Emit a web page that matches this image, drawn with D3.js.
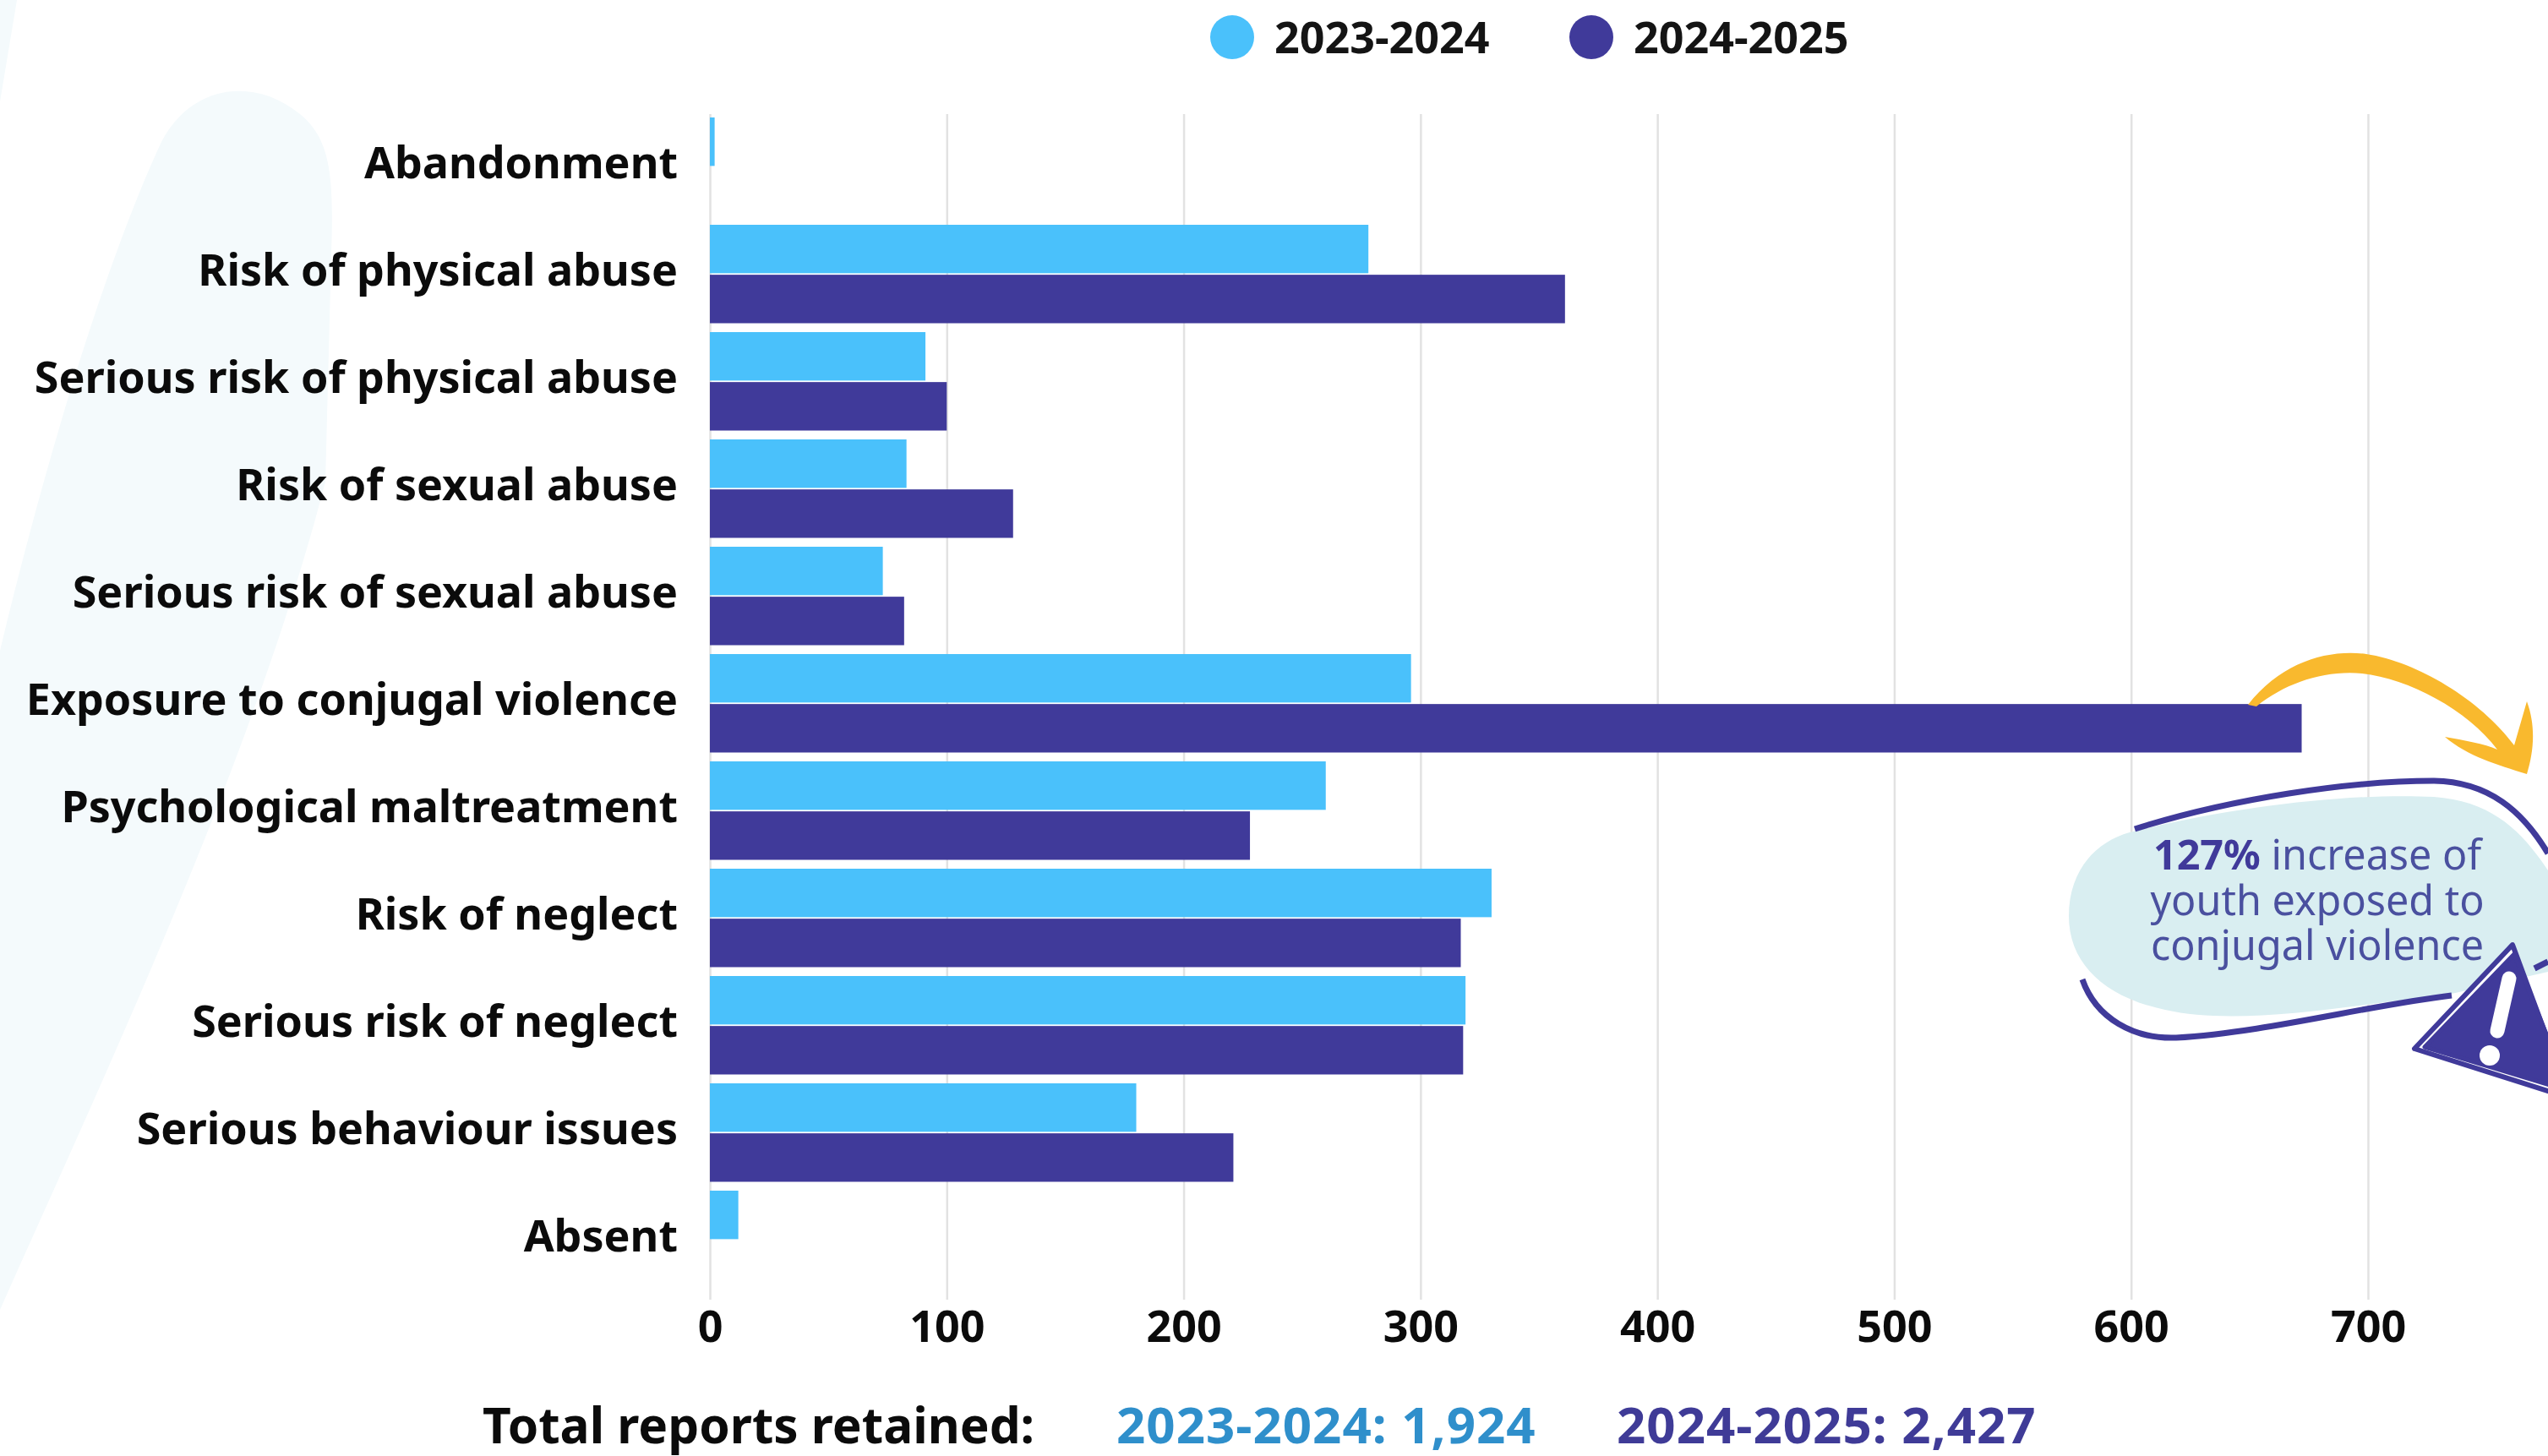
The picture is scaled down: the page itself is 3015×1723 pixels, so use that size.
<!DOCTYPE html>
<html>
<head>
<meta charset="utf-8">
<script src="https://cdn.jsdelivr.net/npm/d3@7"></script>
<style>
  html, body { margin: 0; padding: 0; background: #fff; overflow: hidden; }
  svg { display: block; font-family: "Noto Sans", sans-serif; }
  .domain { display: none; }
</style>
</head>
<body>
<svg id="chart"></svg>
<script>
const categories = [
  "Abandonment", "Risk of physical abuse", "Serious risk of physical abuse",
  "Risk of sexual abuse", "Serious risk of sexual abuse", "Exposure to conjugal violence",
  "Psychological maltreatment", "Risk of neglect", "Serious risk of neglect",
  "Serious behaviour issues", "Absent"
];
const seriesNames = ["2023-2024", "2024-2025"];
const values2324 = [2, 278, 91, 83, 73, 296, 260, 330, 319, 180, 12];
const values2425 = [0, 361, 100, 128, 82, 672, 228, 317, 318, 221, 0];
const xTicks = [0, 100, 200, 300, 400, 500, 600, 700];
const totals = ["2023-2024: 1,924", "2024-2025: 2,427"];
const noteLines = [["127%", " increase of"], ["", "youth exposed to"], ["", "conjugal violence"]];

const width = 3015, height = 1723;
const light = "#4AC1FB", dark = "#403A9A";

const svg = d3.select("#chart").attr("width", width).attr("height", height);

// pale background swoosh
svg.append("path")
  .attr("fill", "#F4FAFC")
  .attr("d", "M0,0 L20,0 L0,120 Z M0,770 C60,520 130,300 190,170 C225,100 300,90 355,135 C392,165 395,210 392,300 L385,570 C300,900 120,1280 0,1550 Z");

const x = d3.scaleLinear().domain([0, 700]).range([840, 2802]);
const y = d3.scaleBand().domain(categories).range([133.5, 1530.5]);
const inner = d3.scaleBand().domain(seriesNames).range([5.5, y.bandwidth() - 5]).paddingInner(0.03);

// grid
svg.append("g")
  .attr("transform", "translate(0,135)")
  .call(d3.axisBottom(x).tickValues(xTicks).tickSize(1403).tickFormat(""))
  .call(g => g.selectAll("line").attr("stroke", "#E2E2E2").attr("stroke-width", 2.5));

// bars
[values2324, values2425].forEach((vals, s) => {
  svg.append("g")
    .attr("fill", s ? dark : light)
    .selectAll("rect")
    .data(categories.map((c, i) => ({ c, v: vals[i] })).filter(d => d.v > 0))
    .join("rect")
    .attr("x", x(0))
    .attr("y", d => y(d.c) + inner(seriesNames[s]))
    .attr("width", d => x(d.v) - x(0))
    .attr("height", inner.bandwidth());
});

// axis labels
svg.append("g")
  .attr("transform", `translate(${x(0)},-3)`)
  .call(d3.axisLeft(y).tickSize(0).tickPadding(38))
  .call(g => g.selectAll("text").attr("fill", "#0B0B0B").attr("font-size", 52).attr("font-weight", 700).attr("font-family", "Noto Sans"));

svg.append("g")
  .attr("transform", "translate(0,1569)")
  .call(d3.axisBottom(x).tickValues(xTicks).tickSize(0).tickPadding(0))
  .call(g => g.selectAll("text").attr("fill", "#0B0B0B").attr("font-size", 52).attr("font-weight", 700)
    .attr("font-family", "Noto Sans").attr("dy", "0.36em"));

// legend
const legend = svg.append("g").selectAll("g").data(seriesNames).join("g")
  .attr("transform", (d, i) => `translate(${i ? 1883 : 1458},44)`);
legend.append("circle").attr("r", 26).attr("fill", (d, i) => i ? dark : light);
legend.append("text").attr("x", 50).attr("dy", "0.36em")
  .attr("font-size", 52).attr("font-weight", 700).attr("fill", "#141414").text(d => d);

// totals line
svg.append("text").attr("x", 571).attr("y", 1708)
  .attr("font-size", 58.5).attr("font-weight", 700).attr("fill", "#0B0B0B").text("Total reports retained:");
svg.selectAll(".total").data(totals).join("text").attr("class", "total")
  .attr("x", (d, i) => i ? 1913 : 1321).attr("y", 1708)
  .attr("font-size", 60).attr("letter-spacing", 1).attr("font-weight", 700)
  .attr("fill", (d, i) => i ? "#3F3B97" : "#2F8FCB").text(d => d);

// callout
const note = svg.append("g");
note.append("path").attr("fill", "#D9EEF1")
  .attr("d", "M2520,985 C2640,955 2780,938 2880,943 C2950,948 2985,985 3015,1030 L3015,1150 L2901,1176 C2780,1190 2650,1215 2562,1195 C2490,1180 2448,1140 2448,1084 C2448,1030 2480,996 2520,985 Z");
const outline = ["M2526,981 C2640,945 2780,924 2880,924 C2945,925 2985,960 3015,1010",
  "M2464,1159 C2480,1205 2525,1230 2575,1228 C2680,1222 2800,1190 2901,1178",
  "M2999,1146 L3015,1138"];
note.selectAll(".outline").data(outline).join("path").attr("class", "outline")
  .attr("fill", "none").attr("stroke", dark).attr("stroke-width", 7).attr("d", d => d);

const noteText = note.selectAll(".line").data(noteLines).join("text").attr("class", "line")
  .attr("x", 2742).attr("y", (d, i) => 1029 + i * 53.5)
  .attr("text-anchor", "middle").attr("font-size", 48.5).attr("fill", "#4A509F");
noteText.append("tspan").attr("font-weight", 700).attr("fill", dark).text(d => d[0]);
noteText.append("tspan").text(d => d[1]);

// arrow
note.append("path").attr("fill", "#F9B92E")
  .attr("d", "M2660,834 C2700,783 2755,768 2800,774 C2860,783 2935,828 2975,882 L2990,830 C3001,860 2998,890 2990,916 C2955,905 2920,895 2893,872 C2915,876 2940,880 2955,887 C2920,840 2850,803 2795,797 C2750,793 2705,808 2670,836 Z");

// warning triangle
note.append("path").attr("fill", "#fff").attr("stroke", dark).attr("stroke-width", 6).attr("stroke-linejoin", "round")
  .attr("d", "M2973,1118 L2857,1241 L3040,1299 Z");
note.append("path").attr("fill", dark).attr("stroke", dark).attr("stroke-width", 5).attr("stroke-linejoin", "round")
  .attr("d", "M2975,1129 L2869,1239 L3040,1291 Z");
note.append("path").attr("fill", "none").attr("stroke", "#fff").attr("stroke-width", 17).attr("stroke-linecap", "round")
  .attr("d", "M2969,1158 L2955,1220");
note.append("circle").attr("cx", 2946).attr("cy", 1249).attr("r", 12).attr("fill", "#fff");
</script>
</body>
</html>
